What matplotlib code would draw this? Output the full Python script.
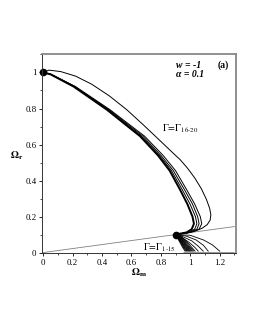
import matplotlib
matplotlib.use('Agg')
import matplotlib.pyplot as plt
from matplotlib.ticker import MultipleLocator, FuncFormatter

plt.rcParams['font.family'] = ['Liberation Serif', 'DejaVu Serif']
plt.rcParams['mathtext.fontset'] = 'stix'

# fixed points (Omega_m, Omega_r)
fixed_x = [0.0, 0.9]
fixed_y = [1.0, 0.1]

# outer trajectory of the Gamma 16-20 group
outer_x = [0.0, 0.04, 0.12, 0.22, 0.33, 0.45, 0.569, 0.68, 0.79, 0.88, 0.93,
           0.98, 1.03, 1.075, 1.11, 1.132, 1.14, 1.135, 1.115, 1.08, 1.03,
           0.97, 0.9]
outer_y = [1.0, 1.013, 1.005, 0.98, 0.935, 0.87, 0.793, 0.71, 0.625, 0.555,
           0.517, 0.47, 0.415, 0.355, 0.295, 0.245, 0.21, 0.18, 0.155, 0.135,
           0.118, 0.107, 0.1]

# the four tight trajectories of the Gamma 16-20 group
band_y = [1.0, 0.99, 0.922, 0.793, 0.646, 0.54, 0.455, 0.35, 0.27, 0.2,
          0.16, 0.13, 0.112, 0.1]
band_a_x = [0.0, 0.05, 0.207, 0.434, 0.659, 0.78, 0.86, 0.93, 0.98, 1.015,
            1.025, 1.01, 0.975, 0.9]
band_b_x = [0.0, 0.05, 0.21, 0.44, 0.667, 0.79, 0.872, 0.945, 0.998, 1.035,
            1.045, 1.03, 0.985, 0.9]
band_c_x = [0.0, 0.05, 0.215, 0.448, 0.678, 0.80, 0.885, 0.96, 1.015, 1.05,
            1.06, 1.045, 0.995, 0.9]
band_d_x = [0.0, 0.055, 0.22, 0.455, 0.69, 0.815, 0.90, 0.975, 1.03, 1.068,
            1.078, 1.06, 1.0, 0.9]

# Gamma 1-15 trajectories: fixed point -> p1 -> p2 -> p3 -> end on Omega_r = 0
fan_p1_x = [0.915, 0.917, 0.919, 0.921, 0.923, 0.925, 0.927, 0.929, 0.932,
            0.935, 0.938, 0.94, 0.95, 0.97, 1.0]
fan_p1_y = [0.078, 0.079, 0.080, 0.081, 0.082, 0.083, 0.084, 0.085, 0.086,
            0.087, 0.089, 0.085, 0.088, 0.092, 0.096]
fan_p2_x = [0.932, 0.935, 0.939, 0.942, 0.945, 0.949, 0.953, 0.956, 0.960,
            0.965, 0.971, 0.99, 1.01, 1.04, 1.09]
fan_p2_y = [0.053, 0.055, 0.056, 0.057, 0.058, 0.059, 0.060, 0.061, 0.062,
            0.064, 0.066, 0.058, 0.065, 0.07, 0.07]
fan_p3_x = [0.949, 0.954, 0.959, 0.963, 0.968, 0.973, 0.978, 0.983, 0.988,
            0.995, 1.003, 1.03, 1.055, 1.09, 1.15]
fan_p3_y = [0.027, 0.028, 0.029, 0.030, 0.030, 0.031, 0.032, 0.033, 0.034,
            0.035, 0.036, 0.03, 0.035, 0.04, 0.043]
fan_end_x = [0.965, 0.972, 0.978, 0.984, 0.99, 0.996, 1.002, 1.008, 1.015,
             1.023, 1.033, 1.054, 1.088, 1.122, 1.2]
fan_end_y = [0.008] * 15

# straight line through the origin and the late-time fixed point
line_x = [0.0, 1.3]
line_y = [0.0, 0.1444]

# initial conditions strip on the Omega_m axis
strip_x = [0.95, 1.3]
strip_y = [0.0, 0.0]

fig = plt.figure(figsize=(2.55, 3.3), dpi=100)
ax = fig.add_axes([0.165, 0.233, 0.76, 0.603])

ax.plot(line_x, line_y, color='#808080', lw=0.6)
ax.plot(strip_x, strip_y, color='#999999', lw=2.2, solid_capstyle='butt')

ax.plot(outer_x, outer_y, color='black', lw=0.7)
ax.plot(band_a_x, band_y, color='black', lw=1.4)
ax.plot(band_b_x, band_y, color='black', lw=0.7)
ax.plot(band_c_x, band_y, color='black', lw=0.7)
ax.plot(band_d_x, band_y, color='black', lw=0.7)

for i in range(len(fan_end_x)):
    ax.plot([fixed_x[1], fan_p1_x[i], fan_p2_x[i], fan_p3_x[i], fan_end_x[i]],
            [fixed_y[1], fan_p1_y[i], fan_p2_y[i], fan_p3_y[i], fan_end_y[i]],
            color='black', lw=0.6)

ax.plot(fixed_x, fixed_y, 'o', color='black', ms=4.5, clip_on=False)

ax.set_xlim(-0.007, 1.31)
ax.set_ylim(-0.003, 1.102)

ax.xaxis.set_major_locator(MultipleLocator(0.2))
ax.xaxis.set_minor_locator(MultipleLocator(0.1))
ax.yaxis.set_major_locator(MultipleLocator(0.2))
ax.yaxis.set_minor_locator(MultipleLocator(0.1))
fmt = FuncFormatter(lambda v, p: '%g' % round(v, 2))
ax.xaxis.set_major_formatter(fmt)
ax.yaxis.set_major_formatter(fmt)
ax.tick_params(which='major', direction='out', length=2.5, width=0.6,
               labelsize=6.3, pad=1.5)
ax.tick_params(which='minor', direction='out', length=1.3, width=0.5)

for side in ['left', 'bottom']:
    ax.spines[side].set_color('#333333')
    ax.spines[side].set_linewidth(0.7)
for side in ['top', 'right']:
    ax.spines[side].set_color('#888888')
    ax.spines[side].set_linewidth(1.3)

ax.set_xlabel(r'$\mathbf{\Omega}_{\mathbf{m}}$', fontsize=7.5)
ax.xaxis.set_label_coords(0.5, -0.1)
ax.xaxis.label.set_va('center')
ax.set_ylabel(r'$\mathbf{\Omega}_{\mathbf{r}}$', fontsize=7.5, rotation=0)
ax.yaxis.set_label_coords(-0.13, 0.49)
ax.yaxis.label.set_va('center')

ax.text(0.905, 1.04, 'w = -1', fontsize=7, style='italic', weight='bold',
        va='center')
ax.text(0.905, 0.99, 'α = 0.1', fontsize=7, style='italic', weight='bold',
        va='center')
ax.text(1.185, 1.04, '(a)', fontsize=7, weight='bold', va='center')

ax.text(0.805, 0.687, r'$\mathrm{\Gamma\!=\!\Gamma_{16\text{-}20}}$', fontsize=7,
        va='center')
ax.text(0.68, 0.026, r'$\mathrm{\Gamma\!=\!\Gamma_{1\text{-}15}}$', fontsize=7,
        va='center')

fig.savefig('out.png', dpi=100)
